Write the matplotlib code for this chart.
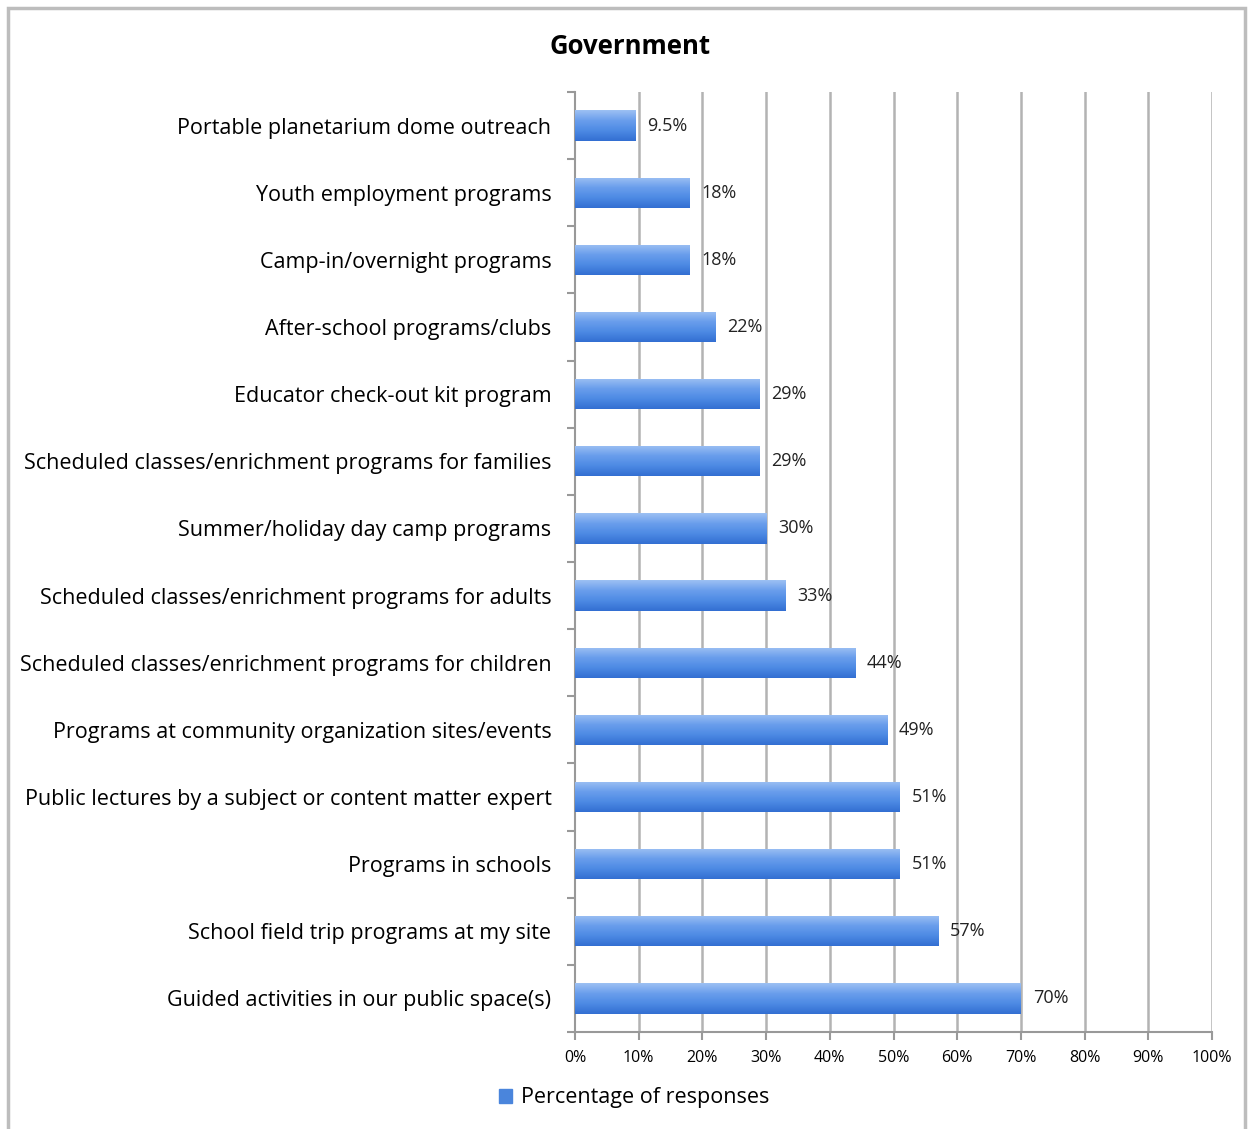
import matplotlib

matplotlib.use("Agg")
import matplotlib.pyplot as plt
import numpy as np
from matplotlib.patches import Rectangle
from matplotlib.ticker import FixedLocator

plt.rcParams["font.family"] = ["Open Sans", "DejaVu Sans"]

# programme types, top to bottom as shown
programs = [
    "Portable planetarium dome outreach",
    "Youth employment programs",
    "Camp-in/overnight programs",
    "After-school programs/clubs",
    "Educator check-out kit program",
    "Scheduled classes/enrichment programs for families",
    "Summer/holiday day camp programs",
    "Scheduled classes/enrichment programs for adults",
    "Scheduled classes/enrichment programs for children",
    "Programs at community organization sites/events",
    "Public lectures by a subject or content matter expert",
    "Programs in schools",
    "School field trip programs at my site",
    "Guided activities in our public space(s)",
]
pct = [9.5, 18, 18, 22, 29, 29, 30, 33, 44, 49, 51, 51, 57, 70]
value_labels = ["9.5%", "18%", "18%", "22%", "29%", "29%", "30%", "33%",
                "44%", "49%", "51%", "51%", "57%", "70%"]
x_ticks = [0, 10, 20, 30, 40, 50, 60, 70, 80, 90, 100]

W, H = 1250, 1129
fig = plt.figure(figsize=(W / 100, H / 100), dpi=100)

# outer frame of the chart box
fig.patches.append(Rectangle((8 / W, -0.01), (1245 - 8) / W, (H - 8) / H + 0.01,
                             transform=fig.transFigure, fill=False,
                             edgecolor="#bdbdbd", lw=2.5))

ax = fig.add_axes([575 / W, 1 - 1032 / H, (1212 - 575) / W, (1032 - 92) / H])

n = len(programs)
ypos = np.arange(n)[::-1]
bar_h = 0.45

# vertical gridlines
for t in x_ticks[1:]:
    ax.axvline(t, color="#b3b3b3", lw=1.8, zorder=0)

bars = ax.barh(ypos, pct, height=bar_h, color="#4a85dc", edgecolor="none", zorder=2)

# vertical shading on each bar: light top edge, darker bottom
grad = np.linspace(0, 1, 64).reshape(-1, 1)
cmap = matplotlib.colors.LinearSegmentedColormap.from_list(
    "barshade", ["#336fd2", "#4d8ae4", "#6a9eec", "#9cc0f3"])
for b in bars:
    x0, y0 = b.get_x(), b.get_y()
    w, h = b.get_width(), b.get_height()
    im = ax.imshow(grad, cmap=cmap, aspect="auto", origin="lower",
                   extent=(x0, x0 + w, y0, y0 + h), zorder=3)
    im.set_clip_path(b)

for y, v, lab in zip(ypos, pct, value_labels):
    ax.annotate(lab, (v, y), xytext=(8.5, 0), textcoords="offset points",
                ha="left", va="center", fontsize=13, color="#222222")

ax.set_xlim(0, 100)
ax.set_ylim(-0.5, n - 0.5)
ax.set_xticks(x_ticks)
ax.set_xticklabels([f"{t}%" for t in x_ticks], fontsize=11.5)
ax.set_yticks(ypos)
ax.set_yticklabels(programs, fontsize=15.5)
ax.yaxis.set_minor_locator(FixedLocator(np.arange(-0.5, n, 1.0)))
ax.tick_params(axis="y", which="major", length=0, pad=17)
ax.tick_params(axis="y", which="minor", length=6, color="#999999", width=1.5)
ax.tick_params(axis="x", length=6, color="#999999", width=1.5, pad=7)

for side in ("top", "right"):
    ax.spines[side].set_visible(False)
for side in ("left", "bottom"):
    ax.spines[side].set_color("#999999")
    ax.spines[side].set_linewidth(1.5)

fig.text(630 / W, 1 - 47 / H, "Government", ha="center", va="center",
         fontsize=18.5, fontweight="bold")

# legend entry
leg = ax.legend([Rectangle((0, 0), 1, 1, color="#4a85dc")],
                ["Percentage of responses"], loc="center",
                bbox_to_anchor=(634 / W, 1 - 1098 / H),
                bbox_transform=fig.transFigure, frameon=False, fontsize=15.5,
                handlelength=0.6, handleheight=0.6, handletextpad=0.4)

fig.savefig("out.png", dpi=100)
